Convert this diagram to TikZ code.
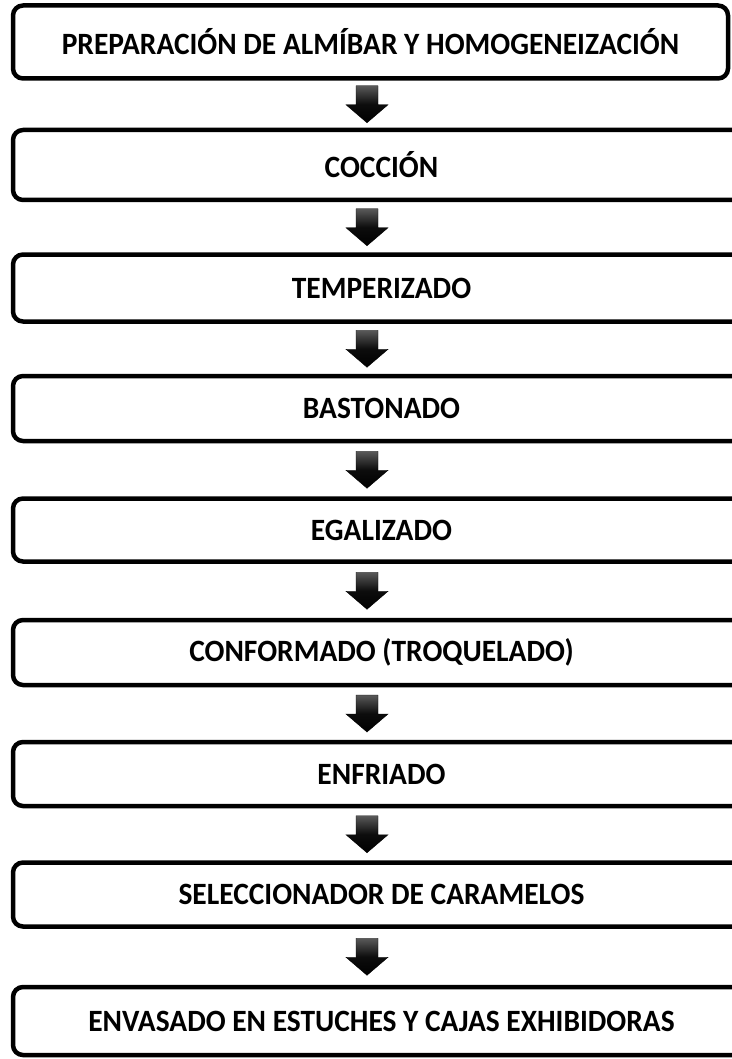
\documentclass[tikz,border=0pt]{standalone}
\usepackage{fontspec}
\setmainfont{Carlito}
\usetikzlibrary{calc}
\newcommand{\steptext}[1]{\scalebox{0.95}[1]{#1}}
\begin{document}
\begin{tikzpicture}[x=1pt,y=-1pt,
  stepbox/.style={draw=black, line width=4.5pt, rounded corners=10pt, fill=white,
    outer sep=0pt, inner sep=0pt, font=\fontsize{31}{35}\selectfont\bfseries, align=center},
  arrowfill/.style={top color=black!65, bottom color=black, middle color=black!95, draw=black, line width=0.4pt, line join=miter}
]
\useasboundingbox (0,0) rectangle (731,1059);
\coordinate (axis) at (367,0);
\node[stepbox, minimum width=715pt, minimum height=73pt] (b1) at (370.5,42) {\steptext{PREPARACIÓN DE ALMÍBAR Y HOMOGENEIZACIÓN}};
\node[stepbox, minimum width=737pt, minimum height=70pt] (b2) at (381.5,165) {\steptext{COCCIÓN}};
\node[stepbox, minimum width=737pt, minimum height=67pt] (b3) at (381.5,288) {\steptext{TEMPERIZADO}};
\node[stepbox, minimum width=737pt, minimum height=65pt] (b4) at (381.5,408.5) {\steptext{BASTONADO}};
\node[stepbox, minimum width=737pt, minimum height=63pt] (b5) at (381.5,530) {\steptext{EGALIZADO}};
\node[stepbox, minimum width=737pt, minimum height=65pt] (b6) at (381.5,652.5) {\steptext{CONFORMADO (TROQUELADO)}};
\node[stepbox, minimum width=737pt, minimum height=64pt] (b7) at (381.5,774) {\steptext{ENFRIADO}};
\node[stepbox, minimum width=737pt, minimum height=64pt] (b8) at (381.5,894.5) {\steptext{SELECCIONADOR DE CARAMELOS}};
\node[stepbox, minimum width=737pt, minimum height=68pt] (b9) at (381.5,1021) {\steptext{ENVASADO EN ESTUCHES Y CAJAS EXHIBIDORAS}};
\foreach \a/\b in {b1/b2,b2/b3,b3/b4,b4/b5,b5/b6,b6/b7,b7/b8,b8/b9}{
  \path let \p1=($(\a.south -| axis)!0.5!(\b.north -| axis)$) in
    [arrowfill] (\x1-11pt,\y1+18.5pt) -- (\x1+11pt,\y1+18.5pt) -- (\x1+11pt,\y1-0.5pt)
      -- (\x1+21pt,\y1-0.5pt) -- (\x1,\y1-18.5pt) -- (\x1-21pt,\y1-0.5pt)
      -- (\x1-11pt,\y1-0.5pt) -- cycle;
}
\end{tikzpicture}
\end{document}
